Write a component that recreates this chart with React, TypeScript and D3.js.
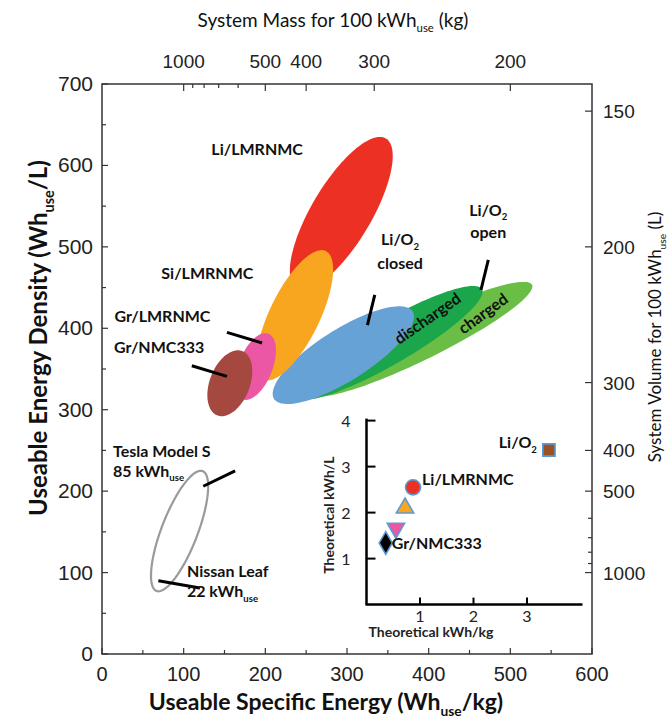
import React from 'react';
import * as d3 from 'd3';

// Regions: useable specific energy range (Wh/kg), useable energy density range (Wh/L), tilt
const regionNames = ['Li/O2 charged', 'Li/O2 discharged', 'Li/O2 closed', 'Li/LMRNMC', 'Si/LMRNMC', 'Gr/LMRNMC', 'Gr/NMC333', 'Tesla / Nissan'];
const regionSpecific = [[255, 527], [236, 466], [209, 382], [230, 356], [189, 283], [163, 213], [129, 184], [60, 130]];
const regionDensity = [[316, 457], [312, 452], [307, 427], [447, 635], [336, 496], [312, 394], [292, 373], [77, 225]];
const regionTilt = [0.92, 0.9, 0.79, 0.75, 0.7, 0.48, 0.36, 0.74];
const regionColors = ['#6abd45', '#1ba64b', '#67a2d7', '#ed3024', '#f8a51f', '#ec57a4', '#a54840', 'none'];

// axes
const xTicks = [0, 100, 200, 300, 400, 500, 600];
const yTicks = [0, 100, 200, 300, 400, 500, 600, 700];
const massMajor = [1000, 500, 400, 300, 200];
const massMinor = [900, 800, 700, 600];
const volumeMajor = [150, 200, 300, 400, 500, 1000];
const volumeMinor = [600, 700, 800, 900];

// leader lines [x1, y1, x2, y2] in Wh/kg, Wh/L
const leaders = [
  [153, 395, 196, 382],
  [110, 354, 153, 341],
  [334, 441, 325, 404],
  [473, 484, 464, 447],
  [163, 225, 124, 206],
  [69, 90, 120, 81],
];

// inset: theoretical values
const insetNames = ['Gr/NMC333', 'Gr/LMRNMC', 'Si/LMRNMC', 'Li/LMRNMC', 'Li/O2'];
const insetSpecific = [0.36, 0.55, 0.72, 0.87, 3.41];
const insetDensity = [1.34, 1.66, 2.1, 2.55, 3.36];
const insetTicks = [1, 2, 3, 4];

const insetSymbols = [d3.symbolDiamond, d3.symbolTriangle, d3.symbolTriangle, d3.symbolCircle, d3.symbolSquare];
const insetColors = ['#000000', '#ec57a4', '#f8a51f', '#ed3024', '#9a5224'];
const insetSizes = [150, 130, 130, 180, 150];
const insetRotate = [0, 180, 0, 0, 0];

const TICKFONT = "'Liberation Sans', Arial, sans-serif";
const LABFONT = "Lato, 'Open Sans', sans-serif";

const x = d3.scaleLinear().domain([0, 600]).range([102, 592]);
const y = d3.scaleLinear().domain([0, 700]).range([654, 84]);
const ix = d3.scaleLinear().domain([0, 4]).range([366.5, 580.5]);
const iy = d3.scaleLinear().domain([0, 4]).range([604.6, 420.6]);

function regionPath(i: number) {
  const [x0, x1] = regionSpecific[i];
  const [y0, y1] = regionDensity[i];
  const cx = (x0 + x1) / 2, sx = (x1 - x0) / 2;
  const cy = (y0 + y1) / 2, sy = (y1 - y0) / 2;
  const r = regionTilt[i];
  const pts = d3.range(120).map(k => {
    const t = (k / 120) * 2 * Math.PI;
    return [x(cx + sx * Math.cos(t)), y(cy + sy * (r * Math.cos(t) + Math.sqrt(1 - r * r) * Math.sin(t)))] as [number, number];
  });
  return d3.line().curve(d3.curveLinearClosed)(pts) || '';
}

// text with a subscript in the middle, e.g. Wh_use
const SubText = ({ main, sub, after, size }: { main: string; sub: string; after?: string; size: number }) => (
  <>
    <tspan>{main}</tspan>
    <tspan dy={size * 0.28} fontSize={size * 0.6}>{sub}</tspan>
    {after ? <tspan dy={-size * 0.28}>{after}</tspan> : null}
  </>
);

export default function App() {
  const drawOrder = [0, 1, 2, 3, 4, 5, 6];
  const lab = { fontFamily: LABFONT, fontWeight: 700, fontSize: 16, fill: '#111' } as const;

  return (
    <svg width={668} height={719} style={{ position: 'absolute', left: 0, top: 0, background: '#fff' }}>
      {/* regions */}
      {drawOrder.map(i => (
        <path key={regionNames[i]} d={regionPath(i)} fill={regionColors[i]} />
      ))}
      <path d={regionPath(7)} fill="none" stroke="#9a9a9a" strokeWidth={2.2} />

      {/* leader lines */}
      {leaders.map((l, i) => (
        <line key={i} x1={x(l[0])} y1={y(l[1])} x2={x(l[2])} y2={y(l[3])} stroke="#000" strokeWidth={3} />
      ))}

      {/* region labels */}
      <text {...lab} x={x(190)} y={y(621)} textAnchor="middle" dominantBaseline="central">Li/LMRNMC</text>
      <text {...lab} x={x(129)} y={y(468)} textAnchor="middle" dominantBaseline="central">Si/LMRNMC</text>
      <text {...lab} x={x(74)} y={y(416)} textAnchor="middle" dominantBaseline="central">Gr/LMRNMC</text>
      <text {...lab} x={x(70)} y={y(378)} textAnchor="middle" dominantBaseline="central">Gr/NMC333</text>
      <text {...lab} x={x(365)} y={y(507) + 4} textAnchor="middle"><SubText main="Li/O" sub="2" size={16} /></text>
      <text {...lab} x={x(365)} y={y(480) + 6} textAnchor="middle">closed</text>
      <text {...lab} x={x(473)} y={y(543) + 4} textAnchor="middle"><SubText main="Li/O" sub="2" size={16} /></text>
      <text {...lab} x={x(473)} y={y(518) + 6} textAnchor="middle">open</text>
      <text {...lab} textAnchor="middle" dominantBaseline="central"
        transform={`translate(${x(398)},${y(413)}) rotate(-35)`}>discharged</text>
      <text {...lab} textAnchor="middle" dominantBaseline="central"
        transform={`translate(${x(466)},${y(419)}) rotate(-36)`}>charged</text>
      <text {...lab} x={x(13.5)} y={y(248) + 5}>Tesla Model S</text>
      <text {...lab} x={x(13.5)} y={y(223.5) + 5}><SubText main="85 kWh" sub="use" size={16} /></text>
      <text {...lab} x={x(104)} y={y(100.7) + 5}>Nissan Leaf</text>
      <text {...lab} x={x(104)} y={y(76) + 5}><SubText main="22 kWh" sub="use" size={16} /></text>

      {/* frame */}
      <rect x={x(0)} y={y(700)} width={x(600) - x(0)} height={y(0) - y(700)} fill="none" stroke="#333" strokeWidth={1.5} />

      {/* bottom axis */}
      {d3.range(0, 601, 50).map(v => (
        <line key={'bx' + v} x1={x(v)} x2={x(v)} y1={y(0)} y2={y(0) - (v % 100 === 0 ? 6 : 4)} stroke="#333" strokeWidth={1.2} />
      ))}
      {xTicks.map(v => (
        <text key={'bl' + v} x={x(v)} y={y(0) + 27} textAnchor="middle" fontFamily={TICKFONT} fontSize={20} fill="#222">{v}</text>
      ))}
      {/* left axis */}
      {d3.range(0, 701, 50).map(v => (
        <line key={'ly' + v} x1={x(0)} x2={x(0) + (v % 100 === 0 ? 6 : 4)} y1={y(v)} y2={y(v)} stroke="#333" strokeWidth={1.2} />
      ))}
      {yTicks.map(v => (
        <text key={'ll' + v} x={x(0) - 9} y={y(v) + 7} textAnchor="end" fontFamily={TICKFONT} fontSize={21} fill="#222">{v}</text>
      ))}
      {/* top axis: mass for 100 kWh */}
      {massMajor.map(m => (
        <g key={'tm' + m}>
          <line x1={x(100000 / m)} x2={x(100000 / m)} y1={y(700)} y2={y(700) + 7} stroke="#333" strokeWidth={1.2} />
          <text x={x(100000 / m)} y={y(700) - 16} textAnchor="middle" fontFamily={TICKFONT} fontSize={19} fill="#222">{m}</text>
        </g>
      ))}
      {massMinor.map(m => (
        <line key={'tn' + m} x1={x(100000 / m)} x2={x(100000 / m)} y1={y(700)} y2={y(700) + 4} stroke="#333" strokeWidth={1.2} />
      ))}
      {/* right axis: volume for 100 kWh */}
      {volumeMajor.map(v => (
        <g key={'rv' + v}>
          <line x1={x(600)} x2={x(600) - 7} y1={y(100000 / v)} y2={y(100000 / v)} stroke="#333" strokeWidth={1.2} />
          <text x={x(600) + 11} y={y(100000 / v) + 7} fontFamily={TICKFONT} fontSize={19} fill="#222">{v}</text>
        </g>
      ))}
      {volumeMinor.map(v => (
        <line key={'rn' + v} x1={x(600)} x2={x(600) - 4} y1={y(100000 / v)} y2={y(100000 / v)} stroke="#333" strokeWidth={1.2} />
      ))}

      {/* axis titles */}
      <text x={326} y={710} textAnchor="middle" fontFamily={LABFONT} fontWeight={700} fontSize={23} fill="#111">
        <SubText main="Useable Specific Energy (Wh" sub="use" after="/kg)" size={23} />
      </text>
      <text transform="translate(47,338) rotate(-90)" textAnchor="middle" fontFamily={LABFONT} fontWeight={700} fontSize={24} fill="#111">
        <SubText main="Useable Energy Density (Wh" sub="use" after="/L)" size={24} />
      </text>
      <text x={333} y={27} textAnchor="middle" fontFamily={LABFONT} fontSize={19} fill="#111">
        <SubText main="System Mass for 100 kWh" sub="use" after=" (kg)" size={19} />
      </text>
      <text transform="translate(661,337) rotate(-90)" textAnchor="middle" fontFamily={LABFONT} fontSize={17} fill="#111">
        <SubText main="System Volume for 100 kWh" sub="use" after=" (L)" size={17} />
      </text>

      {/* inset */}
      <line x1={ix(0)} x2={ix(0)} y1={iy(0)} y2={iy(4) - 2} stroke="#000" strokeWidth={2.5} />
      <line x1={ix(0) - 1} x2={ix(4) + 2} y1={iy(0)} y2={iy(0)} stroke="#000" strokeWidth={2.5} />
      {insetTicks.map(v => (
        <g key={'iy' + v}>
          <line x1={ix(0)} x2={ix(0) + 9} y1={iy(v)} y2={iy(v)} stroke="#000" strokeWidth={2} />
          <text x={ix(0) - 16} y={iy(v) + 6} textAnchor="end" fontFamily={LABFONT} fontSize={16} fill="#222">{v}</text>
        </g>
      ))}
      {insetTicks.slice(0, 3).map(v => (
        <g key={'ix' + v}>
          <line x1={ix(v)} x2={ix(v)} y1={iy(0)} y2={iy(0) - 7} stroke="#000" strokeWidth={2} />
          <text x={ix(v)} y={iy(0) + 17} textAnchor="middle" fontFamily={LABFONT} fontSize={16} fill="#222">{v}</text>
        </g>
      ))}
      <text x={431} y={637} textAnchor="middle" fontFamily={LABFONT} fontWeight={700} fontSize={14} fill="#222">Theoretical kWh/kg</text>
      <text transform="translate(334,515) rotate(-90)" textAnchor="middle" fontFamily={LABFONT} fontWeight={700} fontSize={14} fill="#222">Theoretical kWh/L</text>
      {insetNames.map((n, i) => (
        <path key={n}
          d={d3.symbol().type(insetSymbols[i]).size(insetSizes[i])() || ''}
          transform={`translate(${ix(insetSpecific[i])},${iy(insetDensity[i])}) rotate(${insetRotate[i]})`}
          fill={insetColors[i]} stroke="#5b9bd5" strokeWidth={1.6} />
      ))}
      <text {...lab} x={ix(insetSpecific[4]) - 12} y={iy(insetDensity[4]) - 2} textAnchor="end"><SubText main="Li/O" sub="2" size={16} /></text>
      <text {...lab} x={ix(insetSpecific[3]) + 9} y={iy(insetDensity[3]) - 2}>Li/LMRNMC</text>
      <text {...lab} x={ix(insetSpecific[0]) + 6} y={iy(insetDensity[0]) + 6}>Gr/NMC333</text>
    </svg>
  );
}
